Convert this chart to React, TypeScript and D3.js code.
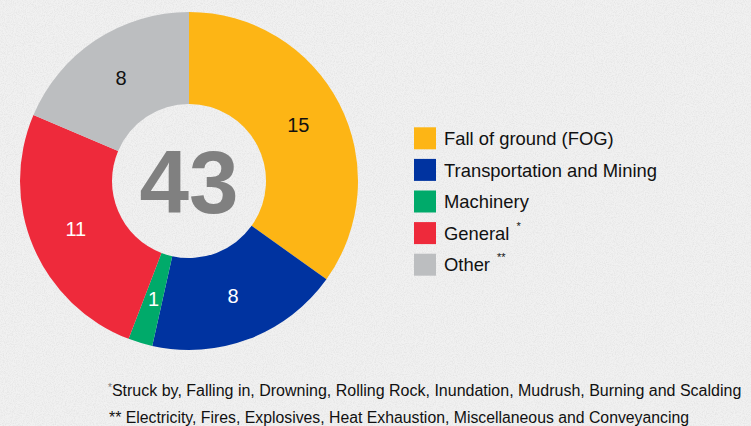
import React from "react";
import * as d3 from "d3";

const categories = ["Fall of ground (FOG)", "Transportation and Mining", "Machinery", "General", "Other"];
const values = [15, 8, 1, 11, 8];
const superscripts = ["", "", "", "*", "**"];
const colors = ["#FDB515", "#0033A0", "#00AA6A", "#EE2A3B", "#BCBEC0"];
const labelColors = ["#111111", "#ffffff", "#ffffff", "#ffffff", "#111111"];
const footnotes = [
  "*Struck by, Falling in, Drowning, Rolling Rock, Inundation, Mudrush, Burning and Scalding",
  "** Electricity, Fires, Explosives, Heat Exhaustion, Miscellaneous and Conveyancing",
];

const W = 751;
const H = 426;

export default function App() {
  const cx = 189;
  const cy = 181;
  const outerR = 169;
  const innerR = 77;
  const total = d3.sum(values);
  const pie = d3.pie<number>().sort(null).value((d) => d);
  const arcs = pie(values);
  const arcGen = d3.arc<d3.PieArcDatum<number>>().innerRadius(innerR).outerRadius(outerR);
  const font = "'Liberation Sans', Arial, sans-serif";

  const legendY = d3
    .scalePoint<number>()
    .domain(d3.range(categories.length))
    .range([127.3, 127.3 + 31.6 * (categories.length - 1)]);

  return (
    <svg width={W} height={H} style={{ position: "absolute", left: 0, top: 0, display: "block" }} fontFamily={font}>
      <defs>
        <filter id="paper" x="0" y="0" width="100%" height="100%">
          <feTurbulence type="fractalNoise" baseFrequency="0.9" numOctaves="3" seed="4" result="noise" />
          <feColorMatrix type="matrix" values="0 0 0 0 0.5  0 0 0 0 0.5  0 0 0 0 0.5  0 0 0 -2.2 1.35" />
        </filter>
      </defs>
      <rect width={W} height={H} fill="#f1f1f1" />
      <rect width={W} height={H} filter="url(#paper)" opacity={0.22} />
      <g transform={`translate(${cx},${cy})`}>
        {arcs.map((a, i) => (
          <path key={i} d={arcGen(a) || ""} fill={colors[i]} />
        ))}
        {arcs.map((a, i) => {
          const [x, y] = arcGen.centroid(a);
          return (
            <text key={"l" + i} x={x} y={y} dy="0.35em" textAnchor="middle" fontSize={20} fill={labelColors[i]}>
              {values[i]}
            </text>
          );
        })}
        <text x={0} y={0} dy="0.36em" textAnchor="middle" fontSize={89} fontWeight="bold" fill="#808080">
          {total}
        </text>
      </g>
      <g>
        {categories.map((c, i) => {
          const y = legendY(i) as number;
          return (
            <g key={c} transform={`translate(414,${y})`}>
              <rect x={0} y={0} width={22} height={22} fill={colors[i]} />
              <text x={30} y={11} dy="0.36em" fontSize={18.4} fill="#111">
                {c}
                {superscripts[i] && (
                  <tspan dx={7} dy={-10} fontSize={11}>
                    {superscripts[i]}
                  </tspan>
                )}
              </text>
            </g>
          );
        })}
      </g>
      <text x={108} y={396} fontSize={16} fill="#111">
        <tspan fontSize={10} dy={-5} fill="#777">*</tspan>
        <tspan dy={5}>{footnotes[0].slice(1)}</tspan>
      </text>
      <text x={109} y={423} fontSize={15.8} fill="#111">
        {footnotes[1]}
      </text>
    </svg>
  );
}
